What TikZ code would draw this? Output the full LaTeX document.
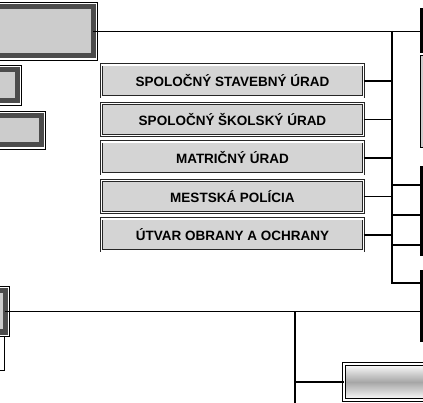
\documentclass[tikz,border=0pt]{standalone}
\usepackage{fontspec}
\setmainfont{Liberation Sans}

\tikzset{
    leadbox/.style={fill=black!20, draw=black!70, line width=5pt,
        inner sep=0pt, outer sep=0pt,
        preaction={draw=black, line width=10pt},
        preaction={draw=white, line width=8.4pt}},
    unitbox/.style={fill=black!17, draw=black!85, line width=0.7pt,
        double, double distance=1.6pt, inner sep=0pt, outer sep=0pt,
        minimum width=262pt, minimum height=32pt,
        font=\fontsize{13.5}{16}\selectfont\bfseries},
    sidebox/.style={fill=black!20, draw=black, line width=3pt,
        inner sep=0pt, outer sep=0pt},
    shadebox/.style={draw=black, line width=0.9pt, double, double distance=2.5pt,
        top color=white, bottom color=white, middle color=black!35,
        inner sep=0pt, outer sep=0pt},
    link/.style={draw=black, line width=1.6pt}
}

\begin{document}
\begin{tikzpicture}[x=1pt, y=-1pt]
    \useasboundingbox (0,0) rectangle (423,403);
    \clip (0,0) rectangle (423,403);

    % left column
    \node [leadbox, minimum width=153pt, minimum height=49pt] (chief) at (16.5, 31.5) {};
        \node [leadbox, minimum width=57pt, minimum height=31pt] (dep1) at (-11.5, 85.5) {};
        \node [leadbox, minimum width=81pt, minimum height=29pt] (dep2) at (0.5, 130.5) {};
    \node [leadbox, minimum width=35pt, minimum height=41pt] (office) at (-12.5, 311.5) {};
        \node [draw, line width=0.6pt, minimum width=34pt, minimum height=34pt,
            inner sep=0pt, outer sep=0pt] (office2) at (-13, 353) {};

    % middle column
    \node [unitbox] (build) at (232.5, 81) {SPOLOČNÝ STAVEBNÝ ÚRAD};
    \node [unitbox] (school) at (232.5, 119.5) {SPOLOČNÝ ŠKOLSKÝ ÚRAD};
    \node [unitbox] (registry) at (232.5, 158) {MATRIČNÝ ÚRAD};
    \node [unitbox] (police) at (232.5, 196.5) {MESTSKÁ POLÍCIA};
    \node [unitbox] (defence) at (232.5, 235) {ÚTVAR OBRANY A OCHRANY};

    % right column
    \node [sidebox, minimum width=117pt, minimum height=42pt] (R1) at (480, 31) {};
    \node [sidebox, line width=1pt, minimum width=119pt, minimum height=92pt] (R2) at (480, 102) {};
    \node [sidebox, minimum width=117pt, minimum height=87pt] (R3) at (480, 211.5) {};
    \node [sidebox, minimum width=117pt, minimum height=68pt] (R4) at (480, 306) {};
    \node [shadebox, minimum width=126pt, minimum height=36pt] (dept) at (407, 382) {};

    % bus lines
    \coordinate (bustop) at (392, 31);
    \coordinate (busend) at (392, 283);
        \coordinate (r3a) at (392, 185);
        \coordinate (r3b) at (392, 215);
        \coordinate (r3c) at (392, 245);
    \coordinate (drop) at (295, 311.5);
    \coordinate (dropend) at (295, 410);
        \coordinate (deptin) at (295, 382);

    \draw [link] (chief.east) -- (chief.east -| R1.west);
    \draw [link] (bustop) -- (busend) -- (busend -| R4.west);
        \draw [link] (build.east) -- (build.east -| bustop);
        \draw [link] (school.east) -- (school.east -| bustop);
        \draw [link] (registry.east) -- (registry.east -| bustop);
        \draw [link] (police.east) -- (police.east -| bustop);
        \draw [link] (defence.east) -- (defence.east -| bustop);
    \draw [link] (r3a) -- (r3a -| R3.west);
    \draw [link] (r3b) -- (r3b -| R3.west);
    \draw [link] (r3c) -- (r3c -| R3.west);

    \draw [link, line width=1.4pt] (office.east) -- (office.east -| R4.west);
    \draw [link] (drop) -- (dropend);
        \draw [link] (deptin) -- (dept.west);
\end{tikzpicture}
\end{document}
